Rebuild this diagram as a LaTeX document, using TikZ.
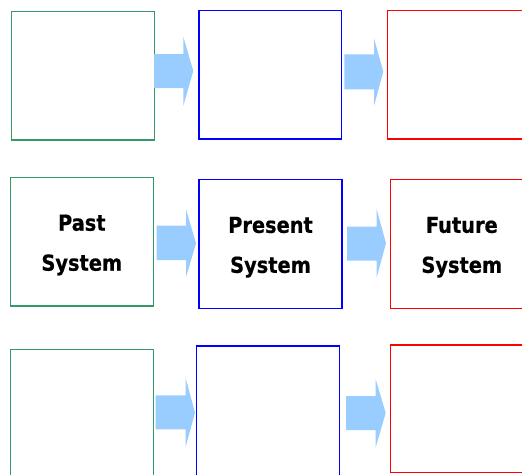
\documentclass[tikz,border=0pt]{standalone}
\usepackage{fontspec}
\newfontfamily\lblfont[FakeStretch=0.88,FakeBold=0.6]{DejaVu Sans}
\definecolor{pastgreen}{RGB}{51,153,102}
\definecolor{presblue}{RGB}{0,0,255}
\definecolor{futred}{RGB}{255,0,0}
\definecolor{arrowfill}{RGB}{153,204,255}
\tikzset{
  sbox/.style={draw, line width=1.3pt, inner sep=0pt, outer sep=0pt, anchor=north west, fill=none},
  gbox/.style={sbox, draw=pastgreen},
  bbox/.style={sbox, draw=presblue},
  rbox/.style={sbox, draw=futred},
  caption/.style={font=\lblfont\bfseries\fontsize{22}{40}\selectfont, align=center, inner sep=0pt, text=black},
  fatarrow/.style={fill=arrowfill, draw=none}
}
\begin{document}
\begin{tikzpicture}[x=1pt,y=-1pt]
\useasboundingbox (0,0) rectangle (522,474);
\clip (0,0) rectangle (522,474);
% row 1
\node[gbox, minimum width=142.6pt, minimum height=128.3pt] (g1) at (11.7,11.7) {};
\node[bbox, minimum width=142.7pt, minimum height=128.7pt] (b1) at (199,10.3) {};
\node[rbox, minimum width=143pt, minimum height=128.7pt] (r1) at (387.3,10.3) {};
% row 2
\node[gbox, minimum width=143pt, minimum height=128.7pt] (g2) at (10.3,177.3) {};
\node[bbox, minimum width=143pt, minimum height=129pt] (b2) at (199,179.3) {};
\node[rbox, minimum width=143pt, minimum height=129pt] (r2) at (390.3,179.3) {};
% row 3
\node[gbox, minimum width=143pt, minimum height=135pt] (g3) at (10.3,349.3) {};
\node[bbox, minimum width=142.6pt, minimum height=135pt] (b3) at (196.7,346) {};
\node[rbox, minimum width=143pt, minimum height=127.7pt] (r3) at (390.3,345) {};
% captions
\node[caption] (t1) at ([yshift=-3.4pt]g2.center) {Past\\System};
\node[caption] (t2) at ([yshift=-3.4pt]b2.center) {Present\\System};
\node[caption] (t3) at ([yshift=-3.4pt]r2.center) {Future\\System};
% arrows row 1
\fill[fatarrow] (154,54) -- (183.3,54) -- (183.3,36.7) -- (193.3,71) -- (183.3,106) -- (183.3,88) -- (154,88) -- cycle;
\fill[fatarrow] (344.3,54.3) -- (374,54.3) -- (374,38.3) -- (383.3,71.7) -- (374,106) -- (374,89.3) -- (344.3,89.3) -- cycle;
% arrows row 2
\fill[fatarrow] (156.7,225.7) -- (186,225.7) -- (186,209.3) -- (196,243.3) -- (186,277.3) -- (186,260) -- (156.7,260) -- cycle;
\fill[fatarrow] (347,226.7) -- (376.7,226.7) -- (376.7,209.3) -- (386,243.3) -- (376.7,277.3) -- (376.7,260.7) -- (347,260.7) -- cycle;
% arrows row 3
\fill[fatarrow] (155.7,395.3) -- (185.7,395.3) -- (185.7,378.3) -- (195,412.7) -- (185.7,446.7) -- (185.7,429.3) -- (155.7,429.3) -- cycle;
\fill[fatarrow] (346,396) -- (375.7,396) -- (375.7,379.3) -- (385.7,413) -- (375.7,447.3) -- (375.7,430) -- (346,430) -- cycle;
\end{tikzpicture}
\end{document}
